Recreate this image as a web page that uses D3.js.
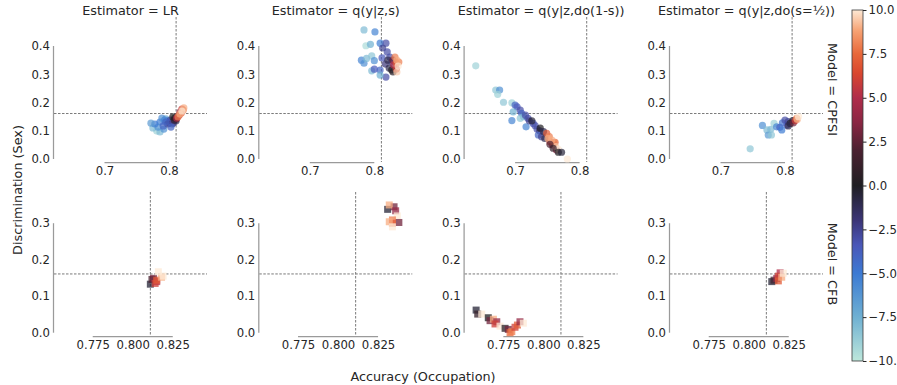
<!DOCTYPE html>
<html>
<head>
<meta charset="utf-8">
<script src="https://cdn.jsdelivr.net/npm/d3@7"></script>
<style>
body { margin: 0; background: #fff; }
text { font-family: "DejaVu Sans", sans-serif; fill: #262626; }
</style>
</head>
<body>
<div id="chart"></div>
<script>
// facet columns / rows
var estimators = ["LR", "q(y|z,s)", "q(y|z,do(1-s))", "q(y|z,do(s=½))"];
var models = ["CPFSI", "CFB"];

// points: [accuracy, discrimination, colour value]
var cpfsiLR = [[0.781,0.099,-9],[0.775,0.110,-8],[0.786,0.096,-8],[0.795,0.142,-7],
  [0.786,0.131,-5],[0.792,0.106,-6],[0.783,0.113,-6],[0.778,0.124,-5],[0.789,0.145,-6],[0.772,0.127,-6.5],
  [0.797,0.135,-5],[0.793,0.138,-5.5],[0.800,0.128,-3.5],[0.807,0.128,-2],
  [0.802,0.138,-3],[0.798,0.124,-2],[0.805,0.124,-3],[0.795,0.131,-4],[0.803,0.113,-4],[0.791,0.117,-4],
  [0.809,0.145,0],[0.808,0.138,1],[0.811,0.135,-1],[0.806,0.149,0],
  [0.811,0.142,2],[0.814,0.152,3],[0.817,0.166,4],[0.812,0.145,5],[0.820,0.177,6],[0.816,0.156,6],
  [0.819,0.163,7],[0.822,0.173,8],[0.814,0.149,8],[0.823,0.181,9],[0.817,0.159,9],[0.820,0.170,10]];
var cpfsiQs = [[0.784,0.457,-8],[0.801,0.450,-5.5],[0.787,0.401,-9.5],[0.794,0.406,-7.5],[0.809,0.410,-5],[0.818,0.410,-3],
  [0.780,0.350,-5.5],[0.784,0.339,-6],[0.788,0.356,-8],[0.796,0.365,-8.5],[0.800,0.348,-6],[0.796,0.312,-8],
  [0.800,0.318,-3.5],[0.809,0.315,-4],[0.818,0.290,-3],[0.809,0.297,-7.5],
  [0.813,0.393,-2.5],[0.820,0.379,-3],[0.812,0.358,-3.5],[0.824,0.361,-3],[0.817,0.336,-2],[0.827,0.343,-2.5],
  [0.823,0.322,-1],[0.821,0.350,-1],[0.827,0.315,0],[0.829,0.308,0.5],
  [0.829,0.350,3],[0.830,0.333,5],[0.834,0.319,6],[0.834,0.340,7],[0.832,0.361,8],[0.838,0.343,8],
  [0.835,0.350,9],[0.835,0.308,9.5],[0.837,0.329,10]];
var cpfsiDo1s = [[0.639,0.330,-9],[0.670,0.244,-8.5],[0.676,0.244,-6],[0.673,0.229,-9],[0.682,0.201,-8.5],[0.695,0.199,-9],
  [0.700,0.191,-4],[0.703,0.185,-3.5],[0.695,0.136,-5.5],[0.697,0.167,-7.5],[0.708,0.173,-3],[0.710,0.162,-4],
  [0.713,0.150,-7],[0.708,0.144,-8.5],[0.717,0.114,-5.5],[0.720,0.144,-3],[0.716,0.155,-3],[0.722,0.135,-2.5],
  [0.728,0.126,-3.5],[0.731,0.118,-3],[0.734,0.106,-3],[0.738,0.100,-2],[0.736,0.085,-4],[0.741,0.079,-2.5],
  [0.726,0.135,-0.5],[0.739,0.109,0],[0.744,0.097,-1],[0.746,0.073,-1],
  [0.764,0.032,4],[0.758,0.050,5],[0.754,0.061,6],[0.749,0.091,7],[0.762,0.059,7.5],[0.753,0.079,8],
  [0.760,0.056,8],[0.757,0.067,9],[0.751,0.073,9],[0.763,0.044,9.5],[0.767,0.034,10],
  [0.754,0.052,2],[0.759,0.038,1],[0.767,0.024,0],[0.772,0.024,-0.5],[0.781,0.000,10]];
var cpfsiHalf = [[0.746,0.036,-8.5],[0.765,0.119,-6],[0.772,0.103,-8],[0.774,0.085,-6.5],[0.779,0.085,-8.5],
  [0.778,0.105,-8],[0.783,0.126,-9],[0.787,0.114,-5.5],
  [0.792,0.112,-4],[0.796,0.128,-4.5],[0.800,0.138,-3],[0.803,0.120,-3.5],[0.795,0.103,-5],[0.805,0.132,-2.5],
  [0.808,0.126,0],[0.812,0.136,-0.5],[0.805,0.117,-1],
  [0.813,0.128,3],[0.816,0.136,6],[0.818,0.144,8],[0.819,0.140,9],[0.821,0.150,10]];
var cfbLR = [[0.811,0.133,-0.5],[0.812,0.146,2],[0.813,0.149,3],[0.815,0.140,5],[0.814,0.135,6],
  [0.815,0.144,7],[0.818,0.152,9],[0.816,0.167,10],[0.819,0.155,10]];
var cfbQs = [[0.831,0.338,-0.5],[0.835,0.345,3],[0.832,0.350,9],[0.836,0.334,4],[0.837,0.320,10],
  [0.838,0.302,3],[0.834,0.309,8],[0.834,0.300,7],[0.832,0.304,9],[0.834,0.290,10]];
var cfbDo1s = [[0.758,0.062,-0.5],[0.759,0.051,1],[0.7615,0.051,10],[0.7656,0.041,0],[0.7667,0.033,3],
  [0.7688,0.037,9],[0.7709,0.030,4],[0.7698,0.024,6],[0.7729,0.018,10],[0.7761,0.012,0.5],[0.7781,0.009,3],
  [0.7792,0.000,7.5],[0.7803,0.003,8],[0.7823,0.015,6],[0.7838,0.021,7],[0.7854,0.030,4],[0.7875,0.026,10]];
var cfbHalf = [[0.8144,0.140,-0.5],[0.8158,0.144,1.5],[0.8175,0.149,4],[0.8196,0.164,5],[0.8185,0.155,6],
  [0.8185,0.142,7],[0.8206,0.152,9],[0.8216,0.163,10]];

// reference lines
var refAcc = 0.811, refDisc = 0.161;

// tick labels
var topXTicks = [0.7, 0.8], topYTicks = [0, 0.1, 0.2, 0.3, 0.4];
var botXTicks = [0.775, 0.8, 0.825], botYTicks = [0, 0.1, 0.2, 0.3];
var cbarTicks = [-10, -7.5, -5, -2.5, 0, 2.5, 5, 7.5, 10];

// icefire-ish colormap
var icefire = ["#bde7db","#6fb0d2","#3c7ad3","#4a57b8","#3b3577","#1f1e22","#4a2130","#8a2643","#b02c4a","#d9472f","#e8683a","#f6a172","#fde9d5"];
var icefirePos = [0, 0.125, 0.25, 0.33, 0.4, 0.5, 0.6, 0.68, 0.75, 0.82, 0.875, 0.94, 1];
var color = d3.scaleLinear()
  .domain(icefirePos.map(function(t) { return -10 + 20 * t; }))
  .range(icefire)
  .clamp(true);

var W = 897, H = 385;
var svg = d3.select("#chart").append("svg")
  .attr("width", W).attr("height", H);

var panelLeft = [54, 259.3, 464.6, 670], pw = 153;
var rows = [
  {top: 17, bottom: 162, xDom: [0.6217, 0.8589], yDom: [-0.0106, 0.5027],
   xTicks: topXTicks, yTicks: topYTicks, xFmt: ".1f", square: false,
   data: [cpfsiLR, cpfsiQs, cpfsiDo1s, cpfsiHalf]},
  {top: 192, bottom: 336, xDom: [0.7508, 0.8464], yDom: [-0.009, 0.3855],
   xTicks: botXTicks, yTicks: botYTicks, xFmt: ".3f", square: true,
   data: [cfbLR, cfbQs, cfbDo1s, cfbHalf]}
];

rows.forEach(function(row, ri) {
  var ph = row.bottom - row.top;
  row.data.forEach(function(pts, ci) {
    var g = svg.append("g")
      .attr("transform", "translate(" + panelLeft[ci] + "," + row.top + ")");
    var x = d3.scaleLinear().domain(row.xDom).range([0, pw]);
    var y = d3.scaleLinear().domain(row.yDom).range([ph, 0]);

    // y axis, trimmed spine
    var ya = g.append("g").call(d3.axisLeft(y).tickValues(row.yTicks).tickFormat(d3.format(".1f")).tickSize(0).tickPadding(4));
    ya.select(".domain").remove();
    ya.selectAll("text").style("font-size", "11.7px").style("font-family", "DejaVu Sans").attr("fill", "#262626");
    g.append("line")
      .attr("x1", -0.5).attr("x2", -0.5)
      .attr("y1", y(row.yTicks[0])).attr("y2", y(row.yTicks[row.yTicks.length - 1]))
      .attr("stroke", "#9a9a9a").attr("stroke-width", 1.25);

    // x axis, trimmed spine
    var xa = g.append("g").attr("transform", "translate(0," + ph + ")")
      .call(d3.axisBottom(x).tickValues(row.xTicks).tickFormat(d3.format(row.xFmt)).tickSize(0).tickPadding(5));
    xa.select(".domain").remove();
    xa.selectAll("text").style("font-size", "11.7px").style("font-family", "DejaVu Sans").attr("fill", "#262626");
    g.append("line")
      .attr("y1", ph + 0.5).attr("y2", ph + 0.5)
      .attr("x1", x(row.xTicks[0])).attr("x2", x(row.xTicks[row.xTicks.length - 1]))
      .attr("stroke", "#9a9a9a").attr("stroke-width", 1.25);

    // reference lines
    g.append("line")
      .attr("x1", 0).attr("x2", pw).attr("y1", y(refDisc)).attr("y2", y(refDisc))
      .attr("stroke", "#7a7a7a").attr("stroke-width", 1).attr("stroke-dasharray", "2.5,1.5");
    g.append("line")
      .attr("x1", x(refAcc)).attr("x2", x(refAcc)).attr("y1", 0).attr("y2", ph)
      .attr("stroke", "#7a7a7a").attr("stroke-width", 1).attr("stroke-dasharray", "2.5,1.5");

    // points
    if (row.square) {
      g.selectAll("rect.pt").data(pts).enter().append("rect")
        .attr("class", "pt")
        .attr("x", function(d) { return x(d[0]) - 3.5; })
        .attr("y", function(d) { return y(d[1]) - 3.5; })
        .attr("width", 7).attr("height", 7)
        .attr("fill", function(d) { return color(d[2]); })
        .attr("fill-opacity", 0.75);
    } else {
      g.selectAll("circle.pt").data(pts).enter().append("circle")
        .attr("class", "pt")
        .attr("cx", function(d) { return x(d[0]); })
        .attr("cy", function(d) { return y(d[1]); })
        .attr("r", 3.6)
        .attr("fill", function(d) { return color(d[2]); })
        .attr("fill-opacity", 0.7);
    }

    // column titles on top row
    if (ri === 0) {
      g.append("text")
        .attr("x", pw / 2).attr("y", 15 - row.top)
        .attr("text-anchor", "middle")
        .style("font-size", "12.8px")
        .text("Estimator = " + estimators[ci]);
    }
    // row labels on the right
    if (ci === 3) {
      svg.append("text")
        .attr("transform", "translate(832," + (row.top + ph / 2) + ") rotate(90)")
        .attr("text-anchor", "middle").attr("dy", "0.35em")
        .style("font-size", "12.8px")
        .text("Model = " + models[ri]);
    }
  });
});

// axis labels
svg.append("text")
  .attr("transform", "translate(18,190) rotate(-90)")
  .attr("text-anchor", "middle").attr("dy", "0.35em")
  .style("font-size", "12.8px")
  .text("Discrimination (Sex)");
svg.append("text")
  .attr("x", 423).attr("y", 381)
  .attr("text-anchor", "middle")
  .style("font-size", "12.8px")
  .text("Accuracy (Occupation)");

// colorbar
var cb = {x: 852, w: 11, top: 10, bottom: 361};
var grad = svg.append("defs").append("linearGradient")
  .attr("id", "cbgrad").attr("x1", 0).attr("x2", 0).attr("y1", 1).attr("y2", 0);
grad.selectAll("stop").data(icefirePos).enter().append("stop")
  .attr("offset", function(d) { return d; })
  .attr("stop-color", function(d, i) { return icefire[i]; });
svg.append("rect")
  .attr("x", cb.x).attr("y", cb.top).attr("width", cb.w).attr("height", cb.bottom - cb.top)
  .attr("fill", "url(#cbgrad)").attr("stroke", "#3a3a3a").attr("stroke-width", 0.8);
var cy = d3.scaleLinear().domain([-10, 10]).range([cb.bottom, cb.top]);
var ca = svg.append("g").attr("transform", "translate(" + (cb.x + cb.w) + ",0)")
  .call(d3.axisRight(cy).tickValues(cbarTicks).tickFormat(d3.format(".1f")).tickSize(3.5).tickPadding(2));
ca.select(".domain").remove();
ca.selectAll("line").attr("stroke", "#262626");
ca.selectAll("text").style("font-size", "11.7px").style("font-family", "DejaVu Sans").attr("fill", "#262626");
</script>
</body>
</html>
